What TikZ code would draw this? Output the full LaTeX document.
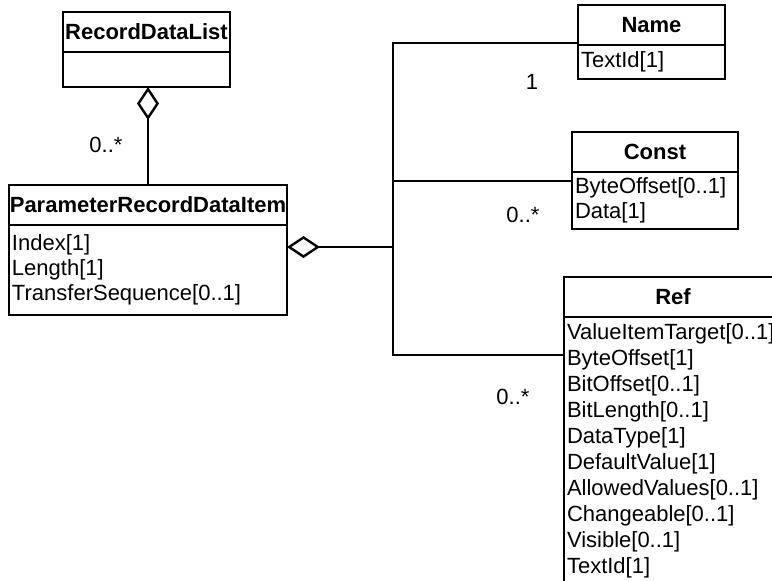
\documentclass[tikz,border=0pt]{standalone}
\usepackage{fontspec}
\setmainfont{Liberation Sans}
\usetikzlibrary{positioning,arrows.meta}

\tikzset{
  classhead/.style={draw,line width=2.4pt,outer sep=0pt,font=\bfseries\fontsize{22}{25}\selectfont,minimum height=40pt,inner sep=0pt,anchor=north west},
  classattr/.style={draw,line width=2.4pt,outer sep=0pt,font=\fontsize{22}{25}\selectfont,align=left,inner xsep=3pt,inner ysep=4pt},
  link/.style={line width=1.7pt},
  aggr/.style={link,-{Diamond[open,length=33pt,width=22pt,line width=2.4pt]}},
  mult/.style={font=\fontsize{22}{25}\selectfont,inner sep=0pt}
}

\begin{document}
\begin{tikzpicture}[x=1pt,y=-1pt]
\useasboundingbox (0,0) rectangle (772,581);
\clip (0,0) rectangle (772,581);

% classes
\node[classhead,minimum width=167pt] (rdlh) at (63,12) {RecordDataList};
\node[classattr,text width=161pt,minimum height=35pt,below=0pt of rdlh] (rdlb) {};

\node[classhead,minimum width=278pt] (prdih) at (9,185) {ParameterRecordDataItem};
\node[classattr,text width=272pt,minimum height=90pt,below=0pt of prdih] (prdib) {Index[1]\\Length[1]\\TransferSequence[0..1]};

\node[classhead,minimum width=147pt] (nameh) at (578,5) {Name};
\node[classattr,text width=141pt,minimum height=34pt,below=0pt of nameh] (nameb) {TextId[1]};

\node[classhead,minimum width=166pt] (consth) at (572,132) {Const};
\node[classattr,text width=160pt,minimum height=57pt,below=0pt of consth] (constb) {ByteOffset[0..1]\\Data[1]};

\node[classhead,minimum width=218pt] (refh) at (564,277) {Ref};
\node[classattr,text width=212pt,inner ysep=7pt,font=\fontsize{22}{26}\selectfont,below=0pt of refh] (refb) {ValueItemTarget[0..1]\\ByteOffset[1]\\BitOffset[0..1]\\BitLength[0..1]\\DataType[1]\\DefaultValue[1]\\AllowedValues[0..1]\\Changeable[0..1]\\Visible[0..1]\\TextId[1]};

% connectors
\draw[aggr] (prdih.north) -- (prdih.north |- rdlb.south);

\coordinate (fork) at (393,247);
\coordinate (ftop) at (393,43);
\coordinate (fmid) at (393,181);
\coordinate (fbot) at (393,355);
\draw[aggr] (fork) -- (fork -| prdib.east);
\draw[link] (ftop -| nameh.west) -- (ftop) -- (fbot) -- (fbot -| refb.west);
\draw[link] (fmid) -- (fmid -| constb.west);

% multiplicities
\node[mult] (m1) at (106,145) {0..*};
\node[mult] (m2) at (532,82) {1};
\node[mult] (m3) at (523,215) {0..*};
\node[mult] (m4) at (513,397) {0..*};
\end{tikzpicture}
\end{document}
